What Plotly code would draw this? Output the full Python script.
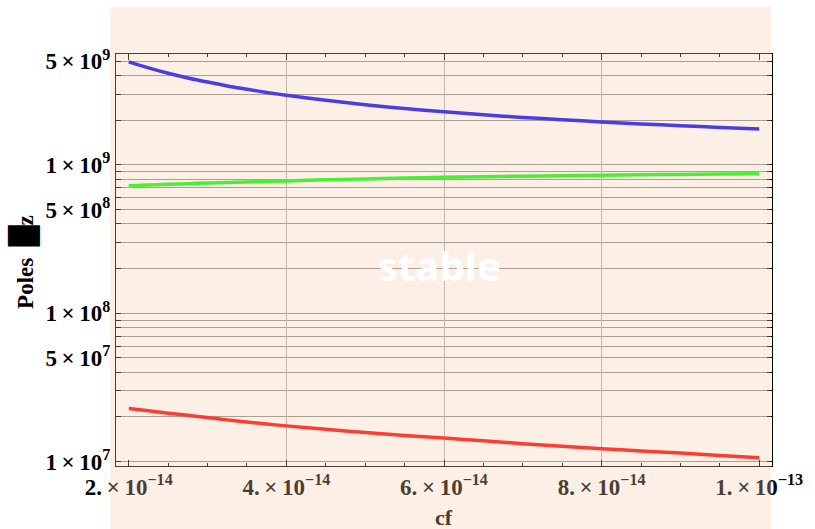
import plotly.graph_objects as go

# ---- data ----
cf = [2.0e-14, 2.25e-14, 2.5e-14, 2.75e-14, 3.0e-14, 3.25e-14, 3.5e-14, 3.75e-14, 4.0e-14,
      4.5e-14, 5.0e-14, 5.5e-14, 6.0e-14, 6.5e-14, 7.0e-14, 7.5e-14, 8.0e-14, 8.5e-14,
      9.0e-14, 9.5e-14, 1.0e-13]
pole_blue = [4.95e9, 4.51e9, 4.15e9, 3.86e9, 3.62e9, 3.41e9, 3.24e9, 3.08e9, 2.95e9,
             2.73e9, 2.55e9, 2.40e9, 2.28e9, 2.18e9, 2.09e9, 2.02e9, 1.95e9, 1.89e9,
             1.84e9, 1.79e9, 1.75e9]
pole_green = [7.25e8, 7.33e8, 7.40e8, 7.48e8, 7.55e8, 7.62e8, 7.68e8, 7.74e8, 7.80e8,
              7.93e8, 8.05e8, 8.15e8, 8.25e8, 8.33e8, 8.40e8, 8.46e8, 8.52e8, 8.58e8,
              8.63e8, 8.68e8, 8.73e8]
pole_red = [2.28e7, 2.20e7, 2.12e7, 2.05e7, 1.98e7, 1.91e7, 1.85e7, 1.79e7, 1.74e7,
            1.65e7, 1.57e7, 1.50e7, 1.44e7, 1.38e7, 1.32e7, 1.27e7, 1.22e7, 1.18e7,
            1.14e7, 1.10e7, 1.06e7]

x_major = [2e-14, 4e-14, 6e-14, 8e-14, 1e-13]
x_major_text = ["2.\u2009×\u200910<sup>−14</sup>", "4.\u2009×\u200910<sup>−14</sup>", "6.\u2009×\u200910<sup>−14</sup>",
                "8.\u2009×\u200910<sup>−14</sup>", "1.\u2009×\u200910<sup>−13</sup>"]
x_grid = [4e-14, 6e-14, 8e-14]
x_minor = [2.5e-14, 3e-14, 3.5e-14, 4.5e-14, 5e-14, 5.5e-14, 6.5e-14, 7e-14, 7.5e-14,
           8.5e-14, 9e-14, 9.5e-14]

y_major = [1e7, 5e7, 1e8, 5e8, 1e9, 5e9]
y_major_text = ["1\u2009×\u200910<sup>7</sup>", "5\u2009×\u200910<sup>7</sup>", "1\u2009×\u200910<sup>8</sup>",
                "5\u2009×\u200910<sup>8</sup>", "1\u2009×\u200910<sup>9</sup>", "5\u2009×\u200910<sup>9</sup>"]
y_minor = [2e7, 3e7, 4e7, 6e7, 7e7, 8e7, 9e7,
           2e8, 3e8, 4e8, 6e8, 7e8, 8e8, 9e8,
           2e9, 3e9, 4e9]

x_range = [1.838e-14, 1.0162e-13]
y_range_log = [6.970, 9.748]

serif = "Liberation Serif"

fig = go.Figure()
fig.add_trace(go.Scatter(x=cf, y=pole_red, mode="lines",
                         line=dict(color="rgb(255,0,0)", width=3.5, shape="spline", smoothing=0.8),
                         showlegend=False))
fig.add_trace(go.Scatter(x=cf, y=pole_green, mode="lines",
                         line=dict(color="rgb(0,255,0)", width=3.5, shape="spline", smoothing=0.8),
                         showlegend=False, xaxis="x2"))
fig.add_trace(go.Scatter(x=cf, y=pole_blue, mode="lines",
                         line=dict(color="rgb(0,0,255)", width=3.5, shape="spline", smoothing=0.8),
                         showlegend=False))

tickfont = dict(family=serif, size=23, color="black", weight="bold")

fig.update_layout(
    width=815, height=529,
    margin=dict(l=116, r=32, t=54, b=63),
    paper_bgcolor="white", plot_bgcolor="white",
    xaxis=dict(
        type="linear", range=x_range, tickmode="array", tickvals=x_major, ticktext=x_major_text,
        showgrid=False, zeroline=False, ticks="inside", ticklen=6, tickcolor="black",
        showline=True, linecolor="black", linewidth=1, mirror="allticks",
        tickfont=tickfont,
        minor=dict(tickmode="array", tickvals=x_minor, ticks="inside", ticklen=3,
                   tickcolor="black", showgrid=False),
    ),
    xaxis2=dict(
        type="linear", range=x_range, overlaying="x", side="bottom", tickmode="array",
        tickvals=x_grid, showticklabels=False, ticks="", showgrid=True,
        gridcolor="rgb(175,175,175)", gridwidth=1, zeroline=False, showline=False,
    ),
    yaxis=dict(
        type="log", range=y_range_log, tickmode="array", tickvals=y_major, ticktext=y_major_text,
        showgrid=True, gridcolor="rgb(140,140,140)", gridwidth=1, zeroline=False,
        ticks="inside", ticklen=5, tickcolor="black",
        showline=True, linecolor="black", linewidth=1, mirror="allticks",
        tickfont=tickfont,
        minor=dict(tickmode="array", tickvals=y_minor, ticks="inside", ticklen=3,
                   tickcolor="black", showgrid=True, gridcolor="rgb(140,140,140)", gridwidth=1),
    ),
    shapes=[dict(type="rect", xref="paper", yref="paper",
                 x0=-0.009, x1=0.9985, y0=-0.3, y1=1.114,
                 fillcolor="rgb(245,202,170)", opacity=0.3, line=dict(width=0), layer="above")],
    annotations=[
        dict(text="stable", xref="paper", yref="paper", x=0.493, y=0.486, showarrow=False,
             font=dict(family="Open Sans", size=40, color="white", weight="bold")),
        dict(text="cf", xref="paper", yref="paper", x=0.5, y=-0.125, yanchor="middle", showarrow=False,
             font=dict(family=serif, size=22, color="rgb(73,61,51)", weight="bold")),
        dict(text="Poles  <span style='font-family:DejaVu Sans;font-size:27px'>█</span>z",
             xref="paper", yref="paper",
             x=-0.142, y=0.495, xanchor="center", yanchor="middle", textangle=-90, showarrow=False,
             font=dict(family=serif, size=23, color="black", weight="bold")),
    ],
)

fig.write_html("out.html")
